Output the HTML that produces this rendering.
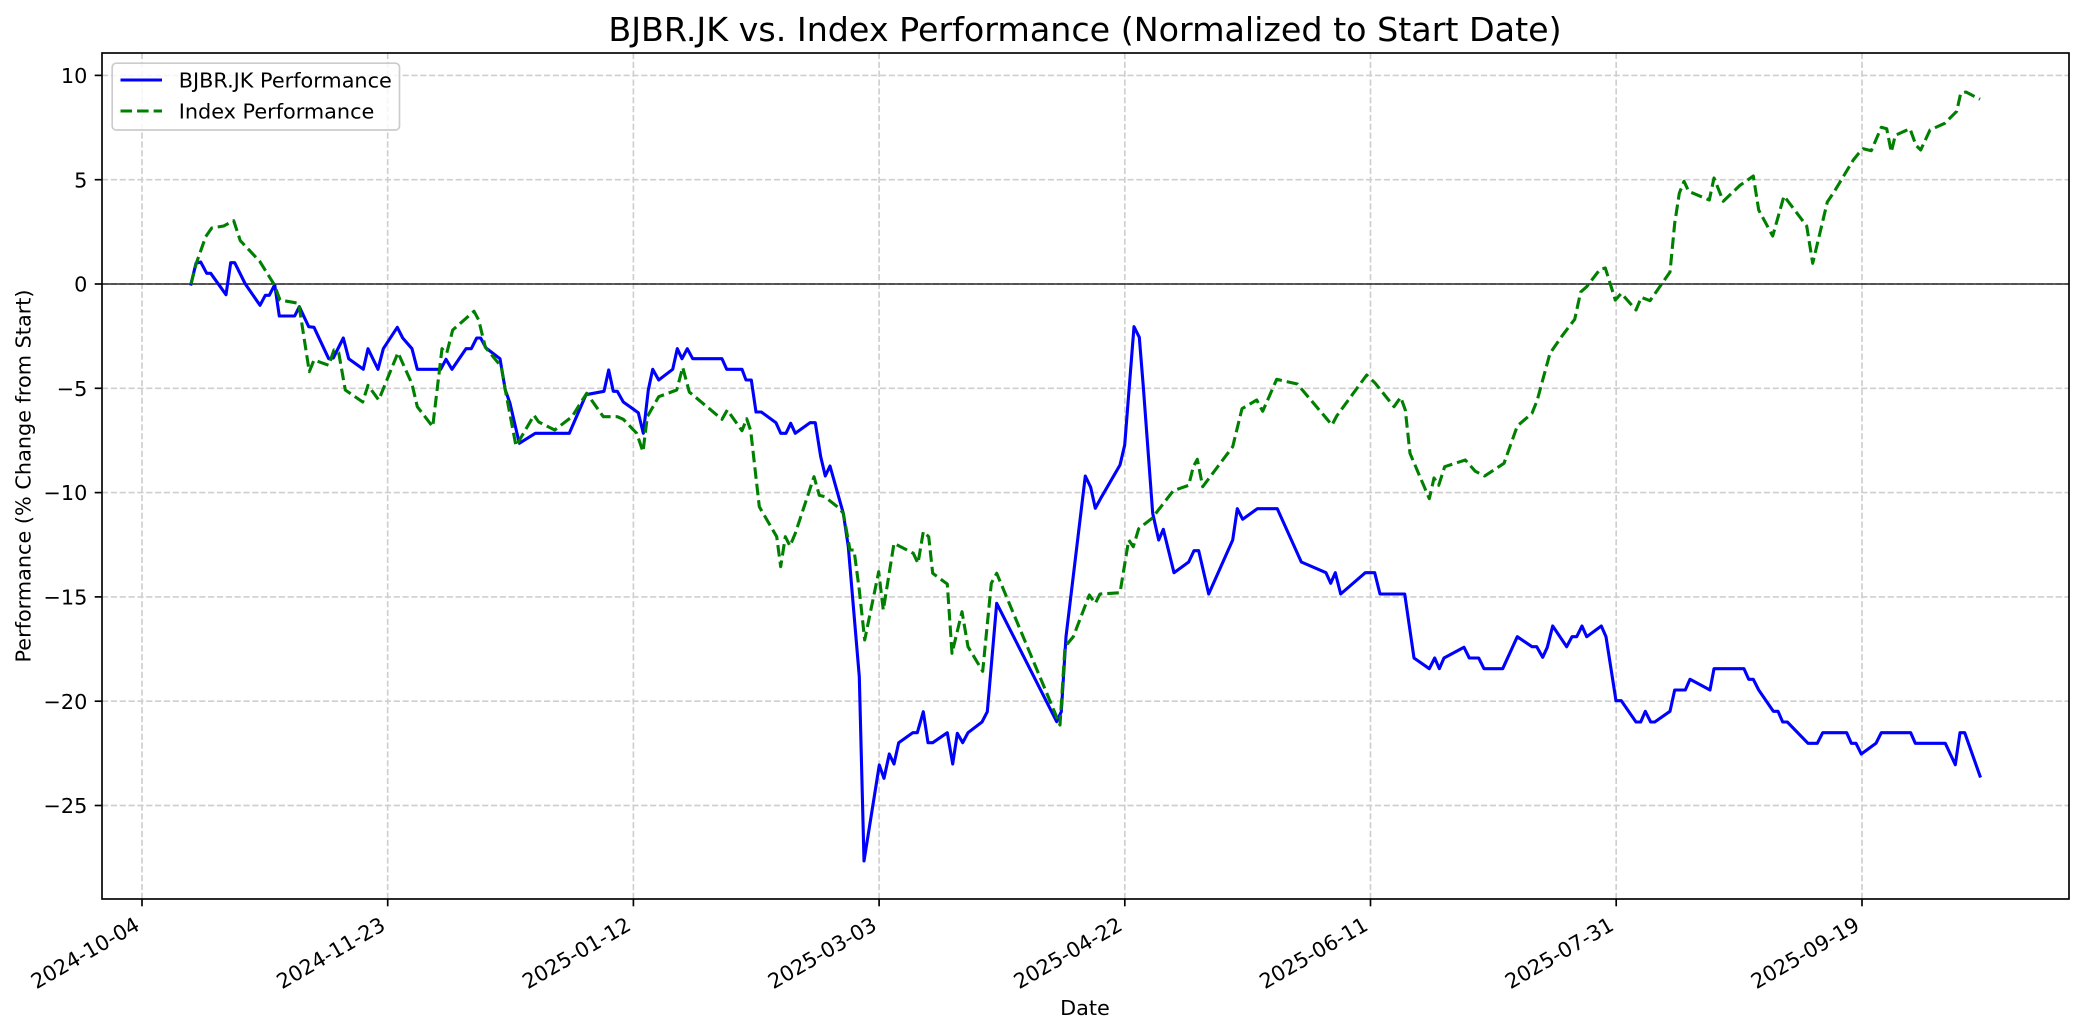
<!DOCTYPE html>
<html>
<head>
<meta charset="utf-8">
<style>
html,body{margin:0;padding:0;background:#fff;}
svg{display:block;}
text{font-family:"DejaVu Sans","Liberation Sans",sans-serif;fill:#000;}
</style>
</head>
<body>
<svg width="2084" height="1035" viewBox="0 0 2084 1035" xmlns="http://www.w3.org/2000/svg">
<rect x="0" y="0" width="2084" height="1035" fill="#fff"/>

<!-- grid -->
<g stroke="#cfcfcf" stroke-width="1.67" stroke-dasharray="6.17,2.67" fill="none">
<line x1="142" y1="53" x2="142" y2="899"/>
<line x1="387.7" y1="53" x2="387.7" y2="899"/>
<line x1="633.4" y1="53" x2="633.4" y2="899"/>
<line x1="879.1" y1="53" x2="879.1" y2="899"/>
<line x1="1124.8" y1="53" x2="1124.8" y2="899"/>
<line x1="1370.5" y1="53" x2="1370.5" y2="899"/>
<line x1="1616.2" y1="53" x2="1616.2" y2="899"/>
<line x1="1862" y1="53" x2="1862" y2="899"/>
<line x1="102" y1="75.4" x2="2069" y2="75.4"/>
<line x1="102" y1="179.7" x2="2069" y2="179.7"/>
<line x1="102" y1="284" x2="2069" y2="284"/>
<line x1="102" y1="388.3" x2="2069" y2="388.3"/>
<line x1="102" y1="492.6" x2="2069" y2="492.6"/>
<line x1="102" y1="596.9" x2="2069" y2="596.9"/>
<line x1="102" y1="701.2" x2="2069" y2="701.2"/>
<line x1="102" y1="805.5" x2="2069" y2="805.5"/>
</g>

<!-- zero line -->
<line x1="102" y1="284" x2="2069" y2="284" stroke="#000" stroke-width="1.2"/>

<!-- Blue series -->
<polyline fill="none" stroke="#0000ff" stroke-width="3.1" stroke-linejoin="round" stroke-linecap="square" points="
191,284 196,263.3 200.7,262 206.7,273.3 210.7,273.3 226,294.7 230.7,262.7 234.7,262.7 245.3,284 260,305.3 265.3,295.3 269.3,295.3 274.7,284.7 279.3,316 294.7,316 299.3,306.7 308.7,326.7 314,327.3 328.7,358.7 333.3,358 343.3,338 348.7,358.7 363.3,369.3 368,348.7 378,369.3 383.3,348.7 397.3,327.3 402.7,338 412,348.7 417.3,369.3 440.7,369.3 446,359.3 452,369.3 466,348.7 471.3,348.7 476.7,338 480.7,338 486,348 500,358.7 505.3,390 510,403.3 519.3,443.3 535.3,433.3 569.3,433.3 586,394.7 604,391.3 608.7,370 613.3,391.3 617.3,391.3 623.3,402 638.3,412.7 643.3,433.3 648.3,390 652.7,369.3 658.7,380 672.7,369.3 677.3,348.7 682,358.7 687.3,348.7 692.7,358.7 722,358.7 726.7,369.3 742,369.3 746,380 751.3,380 756,412 761.3,412 776,422.7 780.7,433.3 786,433.3 790.7,423.3 795.3,433.3 810,422.7 815.3,422.7 820.7,456.7 825.3,476 830,466 843.3,513.3 848.3,546.7 859.3,676.7 864,861 879.3,765 884,778.3 889.3,754 894,764 898.7,742.7 912.7,732.7 917.3,732.7 923.3,711.7 928,742.7 932.7,742.7 947.3,732.7 952.7,764 957.3,733.3 962.7,742.7 968,732.7 982,722 987.3,711.7 996.7,603.3 1056.7,721.7 1061.3,711.7 1066,636.7 1085.3,476 1090.7,487.3 1095.3,508.3 1101.3,497.3 1120,465 1124.7,445 1134,326.7 1139.3,337.3 1143.3,386.7 1152.7,513.3 1158.7,540 1163.3,529.3 1174,572.7 1188.7,562 1194,550.7 1198.7,550.7 1208.7,594 1232.7,540 1237.3,508.7 1242.7,519.3 1257.3,508.7 1277.3,508.7 1301.3,562 1326,572.7 1330.7,583.3 1335.3,572.7 1340.7,594 1365.3,572.7 1374.7,572.7 1380,594 1404.7,594 1414,658 1429.3,668.7 1434.7,658 1439.3,668.7 1444,658 1464,647.3 1469.3,658 1478.7,658 1484,668.7 1502.7,668.7 1517.3,636.7 1532,646.7 1536.7,646.7 1542.7,657.3 1547.3,647.3 1552.7,626 1566.7,646.7 1572,636.7 1576.7,636.7 1582,626 1586.7,636.7 1601.3,626 1606,636.7 1616,700.7 1621.3,700.7 1636,722 1640.7,722 1645.3,711.3 1650.7,722 1654.7,722 1670,711.3 1674.7,690 1685.3,690 1690,679.3 1710,690 1714,668.7 1744,668.7 1748.7,679.3 1753.3,679.3 1758.7,690 1773.3,711.3 1778,711.3 1782.7,722 1787.3,722 1808,743.3 1817.3,743.3 1822.7,732.7 1846.7,732.7 1851.3,743.3 1856,743.3 1861.3,754 1876,743.3 1881.3,732.7 1910.7,732.7 1915.3,743.3 1945.3,743.3 1955.3,764.7 1960,732.7 1964.7,732.7 1980,776"/>

<!-- Green series -->
<polyline fill="none" stroke="#008000" stroke-width="3.1" stroke-linejoin="round" stroke-dasharray="11.56,5" points="
191,284 196.3,263.3 205.7,236.7 211.7,228 223.7,226 233.7,220.7 240.3,240.7 259.7,261.3 274.3,284.7 280,300 298.7,303.3 309.3,371.7 314,360 328.7,365.3 334,350 338.7,352.7 345.3,390 362.7,402 368,385.3 378.7,400 398,352.7 412,384 417.3,406.7 432.7,426.7 442,348.7 446.7,353.3 452.7,330 474,311.3 478.7,320 485.3,347.3 501.3,366.7 505.3,390 516,446 534,415.3 538.7,422 554.7,430 572,416.7 586.7,393.3 603.3,416.7 617.3,416.7 623.3,419.3 636.7,433.3 643,451.7 647.3,416.7 658.7,396.7 676.7,390 682.7,367.3 689.3,392 722,419.3 727.3,410 742,430.7 746.7,418.7 750.7,430.7 759.3,506.7 776.7,536.7 780.7,566.7 785.3,536.7 790,546 795.3,533.3 814,476.7 819.3,495.3 824.7,496.7 839.3,508.3 843.3,513.3 850,550 854,550 859.3,590 864.7,640 878.7,571.7 883.3,610 894,543.3 913.3,553.3 918,563.3 923.3,531.7 928.7,536.7 932.7,573.3 947.3,584 952,653.3 962,611.7 968,646.7 982.7,671.3 991.3,583.3 996.7,573.3 1060,725 1065,646.7 1073.3,636.7 1089.3,595 1095.3,603.3 1100,594 1120,592.7 1128.7,540 1133.3,546.7 1138.7,528.7 1152,518.3 1173.3,490.7 1188.7,485.3 1193.3,466.7 1197.3,459.3 1202.7,486.7 1232.7,446.7 1242,408.7 1256.7,400 1262.7,411.3 1276.7,379.3 1297.3,384 1332,425 1336.7,416 1366.7,375 1375.3,383.3 1394,406.7 1400.7,397.3 1405.3,410 1410,453.3 1429.3,498.7 1434,478 1438.7,485.3 1444.7,466.7 1465.3,460 1475.3,471.3 1484.7,476 1504,463.3 1517.3,426 1532,413.3 1537.3,400 1542.7,380 1550,353.3 1562,336 1574.7,319.3 1580.7,292 1586.7,286.7 1600,269.3 1605.3,268 1615.3,300 1621.3,293.3 1636,310 1641.3,297.3 1650,300.7 1670,272 1674.7,223.3 1679.3,193.3 1684,181.3 1688.7,191.3 1709.3,200 1714,178 1723.3,201.3 1740,185.3 1753.3,176 1758.7,210 1772.7,236 1784,196 1806.7,226 1812.7,263.3 1827.3,202 1834,192 1853.3,160 1858.7,153.3 1863.3,148.7 1871.3,150.7 1881.3,127.3 1886.7,128.7 1891.3,152 1895.3,135.3 1910,128.7 1916,145.3 1920.7,150 1930,130 1944.7,123.3 1956.7,111.3 1960.7,93.3 1966,92 1980,99.3"/>

<!-- spines -->
<rect x="102" y="53" width="1967" height="846" fill="none" stroke="#000" stroke-width="1.67"/>

<!-- y ticks -->
<g stroke="#000" stroke-width="1.67">
<line x1="94.7" y1="75.4" x2="102" y2="75.4"/>
<line x1="94.7" y1="179.7" x2="102" y2="179.7"/>
<line x1="94.7" y1="284" x2="102" y2="284"/>
<line x1="94.7" y1="388.3" x2="102" y2="388.3"/>
<line x1="94.7" y1="492.6" x2="102" y2="492.6"/>
<line x1="94.7" y1="596.9" x2="102" y2="596.9"/>
<line x1="94.7" y1="701.2" x2="102" y2="701.2"/>
<line x1="94.7" y1="805.5" x2="102" y2="805.5"/>
</g>
<g font-size="20.8" text-anchor="end">
<text x="87.4" y="83">10</text>
<text x="87.4" y="187.3">5</text>
<text x="87.4" y="291.6">0</text>
<text x="87.4" y="395.9">−5</text>
<text x="87.4" y="500.2">−10</text>
<text x="87.4" y="604.5">−15</text>
<text x="87.4" y="708.8">−20</text>
<text x="87.4" y="813.1">−25</text>
</g>

<!-- x ticks -->
<g stroke="#000" stroke-width="1.67">
<line x1="142" y1="899" x2="142" y2="906.3"/>
<line x1="387.7" y1="899" x2="387.7" y2="906.3"/>
<line x1="633.4" y1="899" x2="633.4" y2="906.3"/>
<line x1="879.1" y1="899" x2="879.1" y2="906.3"/>
<line x1="1124.8" y1="899" x2="1124.8" y2="906.3"/>
<line x1="1370.5" y1="899" x2="1370.5" y2="906.3"/>
<line x1="1616.2" y1="899" x2="1616.2" y2="906.3"/>
<line x1="1862" y1="899" x2="1862" y2="906.3"/>
</g>
<g font-size="20.8" text-anchor="end">
<text transform="translate(141,929) rotate(-30)">2024-10-04</text>
<text transform="translate(386.7,929) rotate(-30)">2024-11-23</text>
<text transform="translate(632.4,929) rotate(-30)">2025-01-12</text>
<text transform="translate(878.1,929) rotate(-30)">2025-03-03</text>
<text transform="translate(1123.8,929) rotate(-30)">2025-04-22</text>
<text transform="translate(1369.5,929) rotate(-30)">2025-06-11</text>
<text transform="translate(1615.2,929) rotate(-30)">2025-07-31</text>
<text transform="translate(1861,929) rotate(-30)">2025-09-19</text>
</g>

<!-- axis labels -->
<text x="1085" y="1015" font-size="20.8" text-anchor="middle">Date</text>
<text transform="translate(30.4,476) rotate(-90)" font-size="20.8" text-anchor="middle">Performance (% Change from Start)</text>

<!-- title -->
<text x="1085" y="41" font-size="33.3" text-anchor="middle">BJBR.JK vs. Index Performance (Normalized to Start Date)</text>

<!-- legend -->
<rect x="112.2" y="63.2" width="287.3" height="66.8" rx="4" ry="4" fill="#fff" fill-opacity="0.8" stroke="#cccccc" stroke-width="1.67"/>
<line x1="120.5" y1="80" x2="162" y2="80" stroke="#0000ff" stroke-width="3.1"/>
<line x1="120.5" y1="111" x2="162" y2="111" stroke="#008000" stroke-width="3.1" stroke-dasharray="11.56,5"/>
<text x="178.7" y="87.5" font-size="20.8">BJBR.JK Performance</text>
<text x="178.7" y="118.5" font-size="20.8">Index Performance</text>
</svg>
</body>
</html>
